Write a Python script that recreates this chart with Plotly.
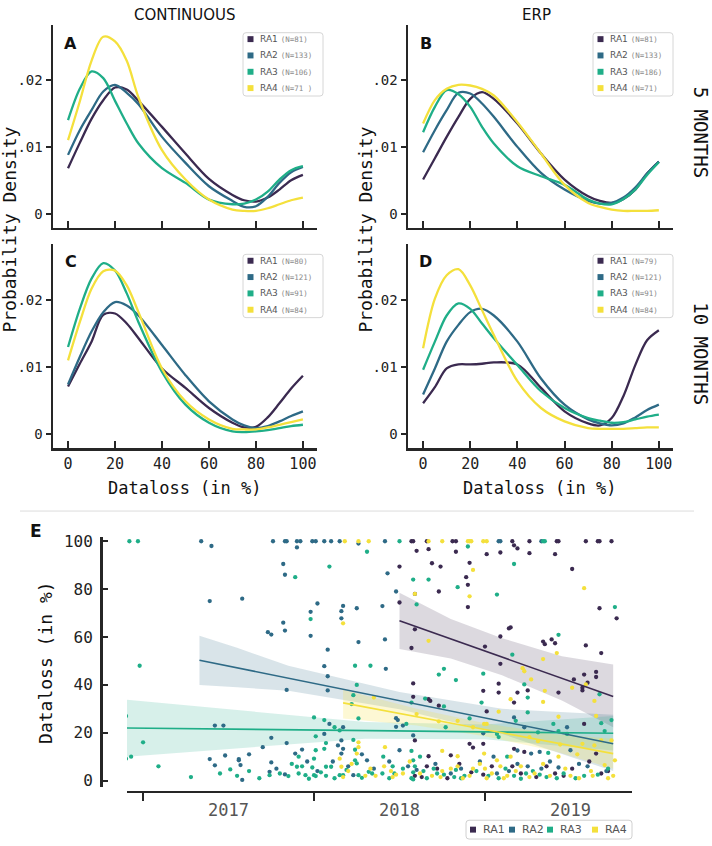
import plotly.graph_objects as go

W, H = 712, 846

# ---------------- data ----------------
ra_names = ["RA1", "RA2", "RA3", "RA4"]
ra_colors = ["#3b2a50", "#2e6a86", "#1fae88", "#f4e03c"]
band_fill = ["rgba(59,42,80,0.18)", "rgba(46,106,134,0.18)",
             "rgba(31,174,136,0.18)", "rgba(244,224,60,0.22)"]

dens_x = [0, 5, 10, 15, 20, 25, 30, 40, 50, 60, 70, 75, 80, 85, 90, 95, 100]

# A: continuous, 5 months
cont5_ra1 = [0.0068, 0.0106, 0.0142, 0.0170, 0.0189, 0.0186, 0.0169, 0.0130, 0.0090, 0.0052, 0.0028, 0.0020, 0.0018, 0.0024, 0.0036, 0.0050, 0.0058]
cont5_ra2 = [0.0088, 0.0125, 0.0155, 0.0183, 0.0193, 0.0181, 0.0164, 0.0115, 0.0076, 0.0041, 0.0019, 0.0010, 0.0011, 0.0025, 0.0046, 0.0062, 0.0070]
cont5_ra3 = [0.0140, 0.0187, 0.0213, 0.0203, 0.0169, 0.0135, 0.0105, 0.0068, 0.0046, 0.0021, 0.0014, 0.0015, 0.0021, 0.0033, 0.0051, 0.0065, 0.0071]
cont5_ra4 = [0.0110, 0.0168, 0.0229, 0.0265, 0.0258, 0.0229, 0.0174, 0.0095, 0.0051, 0.0021, 0.0006, 0.0004, 0.0004, 0.0008, 0.0014, 0.0020, 0.0024]
# B: ERP, 5 months
erp5_ra1 = [0.0051, 0.0083, 0.0115, 0.0145, 0.0172, 0.0182, 0.0172, 0.0135, 0.0090, 0.0051, 0.0026, 0.0019, 0.0016, 0.0022, 0.0036, 0.0060, 0.0078]
erp5_ra2 = [0.0092, 0.0125, 0.0155, 0.0181, 0.0180, 0.0165, 0.0145, 0.0100, 0.0061, 0.0036, 0.0019, 0.0015, 0.0016, 0.0024, 0.0039, 0.0060, 0.0078]
erp5_ra3 = [0.0122, 0.0160, 0.0185, 0.0179, 0.0160, 0.0130, 0.0105, 0.0071, 0.0056, 0.0043, 0.0021, 0.0015, 0.0014, 0.0022, 0.0036, 0.0058, 0.0077]
erp5_ra4 = [0.0135, 0.0170, 0.0187, 0.0193, 0.0192, 0.0187, 0.0177, 0.0137, 0.0090, 0.0043, 0.0016, 0.0010, 0.0006, 0.0004, 0.0004, 0.0004, 0.0005]
# C: continuous, 10 months
cont10_ra1 = [0.0071, 0.0105, 0.0138, 0.0178, 0.0180, 0.0165, 0.0143, 0.0098, 0.0069, 0.0039, 0.0017, 0.0010, 0.0011, 0.0025, 0.0046, 0.0068, 0.0087]
cont10_ra2 = [0.0074, 0.0115, 0.0153, 0.0182, 0.0197, 0.0192, 0.0177, 0.0133, 0.0088, 0.0049, 0.0022, 0.0013, 0.0009, 0.0012, 0.0019, 0.0027, 0.0034]
cont10_ra3 = [0.0130, 0.0187, 0.0232, 0.0255, 0.0244, 0.0210, 0.0167, 0.0093, 0.0044, 0.0017, 0.0004, 0.0003, 0.0004, 0.0006, 0.0009, 0.0012, 0.0014]
cont10_ra4 = [0.0110, 0.0167, 0.0217, 0.0243, 0.0244, 0.0222, 0.0182, 0.0098, 0.0049, 0.0022, 0.0008, 0.0007, 0.0007, 0.0010, 0.0014, 0.0018, 0.0022]
# D: ERP, 10 months
erp10_ra1 = [0.0046, 0.0070, 0.0098, 0.0104, 0.0104, 0.0105, 0.0107, 0.0104, 0.0069, 0.0034, 0.0016, 0.0013, 0.0024, 0.0057, 0.0103, 0.0140, 0.0155]
erp10_ra2 = [0.0059, 0.0098, 0.0138, 0.0163, 0.0182, 0.0187, 0.0177, 0.0138, 0.0083, 0.0044, 0.0022, 0.0016, 0.0013, 0.0016, 0.0025, 0.0036, 0.0044]
erp10_ra3 = [0.0096, 0.0138, 0.0177, 0.0195, 0.0187, 0.0165, 0.0143, 0.0103, 0.0064, 0.0039, 0.0024, 0.0020, 0.0017, 0.0018, 0.0022, 0.0026, 0.0029]
erp10_ra4 = [0.0128, 0.0202, 0.0237, 0.0246, 0.0222, 0.0185, 0.0148, 0.0079, 0.0039, 0.0019, 0.0009, 0.0008, 0.0008, 0.0008, 0.0009, 0.0010, 0.0010]

n_cont5 = ["(N=81)", "(N=133)", "(N=106)", "(N=71 )"]
n_erp5 = ["(N=81)", "(N=133)", "(N=186)", "(N=71)"]
n_cont10 = ["(N=80)", "(N=121)", "(N=91)", "(N=84)"]
n_erp10 = ["(N=79)", "(N=121)", "(N=91)", "(N=84)"]

dens_ticks = [0, 20, 40, 60, 80, 100]
dens_yticks = [0, 0.01, 0.02]
dens_yticktext = ["0", ".01", ".02"]

# E: dataloss over time (decimal year, dataloss %)
ra1_points = [
    (2018.57, 100), (2018.58, 100), (2018.66, 100), (2018.81, 100), (2018.83, 100), (2019.16, 100),
    (2019.26, 100), (2019.42, 100), (2019.43, 100), (2019.59, 100), (2019.66, 100), (2019.67, 100), (2019.74, 100),
    (2018.60, 96), (2018.67, 96.7), (2018.83, 95.6), (2019.01, 94.6), (2019.09, 95.3), (2018.69, 90.8),
    (2018.74, 89.4), (2018.50, 89.4), (2018.91, 91), (2018.89, 85), (2018.90, 81.8), (2018.73, 79),
    (2018.59, 78), (2018.50, 74.4), (2018.90, 72.5), (2018.59, 63.2), (2018.57, 55.4), (2019.00, 56),
    (2019.09, 60.2), (2019.09, 48.8), (2019.14, 63.6), (2018.58, 40.6), (2018.99, 37.5), (2019.08, 40.5),
    (2019.08, 36.8), (2018.58, 35), (2018.67, 34), (2018.68, 33.3), (2018.73, 31.3), (2019.01, 28.9),
    (2019.17, 98.3), (2019.19, 97), (2019.26, 95), (2019.41, 94.6), (2019.51, 88.4), (2019.67, 72),
    (2019.77, 67.8), (2019.15, 64), (2019.39, 59), (2019.41, 57.4), (2019.34, 58.1), (2019.35, 57),
    (2019.59, 56.5), (2019.68, 53.3), (2019.65, 45.4), (2019.65, 43.3), (2019.58, 44.3), (2019.60, 40.9),
    (2019.52, 42.3), (2019.57, 38.8), (2019.57, 37.7), (2019.43, 36.8), (2019.25, 37.7), (2019.19, 36.8),
    (2019.17, 32.6), (2019.58, 23.7), (2019.17, 13.3), (2019.23, 12), (2019.65, 11.3),
    (2018.59, 16.8), (2018.67, 10.2), (2018.80, 10.6), (2018.91, 15.4), (2018.93, 13.8), (2018.99, 15.4),
    (2018.59, 2), (2018.63, 1.5), (2018.66, 6), (2018.92, 3.5), (2018.99, 2.5), (2019.16, 6),
    (2019.41, 3), (2019.51, 5), (2019.68, 3), (2018.78, 1), (2019.30, 1.5),
    (2018.72, 5), (2018.85, 7), (2019.04, 6), (2019.21, 3), (2019.36, 6), (2019.46, 2), (2019.61, 8), (2019.72, 4),
]
ra2_points = [
    (2017.34, 100), (2017.40, 98), (2017.39, 75), (2017.42, 23), (2017.39, 9), (2017.48, 10.5),
    (2017.42, 6.4), (2017.56, 9), (2017.47, 23), (2017.58, 0.3),
    (2017.76, 100), (2017.83, 100), (2017.84, 100), (2017.90, 100), (2017.92, 100), (2017.99, 100),
    (2018.01, 100), (2018.06, 100), (2018.10, 100), (2018.15, 100), (2017.90, 97.4), (2018.26, 99),
    (2017.82, 90.5), (2017.83, 86), (2017.58, 76), (2018.02, 74), (2017.98, 70.5), (2018.17, 73),
    (2018.16, 70.8), (2018.16, 67.8), (2018.25, 72), (2017.82, 66), (2017.83, 62.7), (2017.73, 62),
    (2017.75, 61), (2017.98, 60.5), (2018.26, 57.9), (2018.08, 54.7), (2018.06, 47.8), (2018.08, 43.6),
    (2017.84, 37.9), (2018.08, 37.7), (2018.09, 23.7), (2018.17, 22.3), (2017.75, 17.9), (2017.84, 15.7),
    (2018.06, 19.5), (2018.16, 16.8), (2017.56, 8.5), (2017.57, 6.5), (2017.75, 7.6), (2017.74, 3.7),
    (2017.83, 2.6), (2017.89, 11.3), (2018.14, 14.7), (2018.17, 13.3), (2018.16, 11.3), (2018.23, 2.3),
    (2018.31, 8.5), (2018.415, 100), (2018.43, 86.6), (2018.40, 72.9), (2018.415, 59), (2018.42, 46.7),
    (2018.48, 26.1), (2018.49, 25.3), (2018.48, 22.5), (2018.48, 79),
    (2019.08, 100), (2019.09, 100), (2019.33, 100), (2018.52, 23), (2018.99, 19.8), (2018.58, 18.9),
    (2018.50, 12.7), (2019.05, 10), (2019.17, 26.4), (2019.23, 22.3), (2019.48, 22.3), (2019.19, 12.6),
    (2019.27, 11.3), (2019.32, 12), (2019.50, 12.7),
    (2018.35, 5), (2019.07, 3), (2019.19, 7), (2019.25, 6), (2019.33, 5), (2019.43, 5.5),
    (2018.02, 4), (2017.96, 8), (2018.20, 6), (2018.60, 4.5), (2018.80, 3), (2019.60, 6),
    (2017.62, 11), (2017.70, 14), (2017.78, 5), (2017.93, 13), (2018.11, 8), (2018.28, 11), (2018.44, 8),
    (2018.55, 6), (2018.71, 7), (2018.86, 5), (2018.97, 8), (2019.14, 4), (2019.38, 8), (2019.55, 7), (2019.71, 4),
]
ra3_points = [
    (2016.92, 100), (2016.97, 100), (2016.98, 48), (2016.90, 27), (2017.00, 16), (2016.90, 9.2),
    (2016.93, 10), (2017.09, 6), (2017.51, 4.7), (2017.28, 1.5), (2017.45, 3),
    (2017.89, 85), (2018.09, 89.4), (2017.98, 67.5), (2018.24, 48), (2018.33, 48), (2018.25, 40),
    (2018.23, 35.7), (2018.22, 32), (2018.00, 26.4), (2018.06, 25.3), (2018.12, 22.3), (2018.15, 21),
    (2018.26, 26), (2018.01, 18.5), (2018.07, 15.7), (2018.23, 17), (2018.31, 95.6), (2017.85, 1.9),
    (2017.91, 10), (2017.90, 5.8), (2017.91, 3), (2017.93, 6), (2017.95, 2.3), (2018.01, 12.7),
    (2018.00, 9.2), (2017.99, 5.5), (2018.00, 2.3), (2018.01, 1.9), (2018.06, 13.3), (2018.07, 5.8),
    (2018.10, 5.8), (2018.07, 2), (2018.15, 2.3), (2018.17, 2.3), (2018.24, 12.9), (2018.24, 8.5),
    (2018.25, 7.2), (2018.26, 2.3), (2018.32, 3.7), (2018.34, 3), (2017.74, 2.3),
    (2018.50, 100), (2018.90, 97.8), (2018.58, 84), (2018.67, 84), (2018.84, 80.8), (2019.07, 77.7),
    (2018.60, 73.6), (2018.73, 44.3), (2018.76, 46.7), (2018.83, 42), (2018.99, 44.7), (2018.65, 34.3),
    (2018.57, 32.6), (2018.76, 31), (2018.98, 32.6), (2018.54, 23.7), (2018.77, 22.3), (2018.91, 26),
    (2019.07, 19.5), (2019.08, 18.2), (2018.405, 10), (2018.57, 12.4), (2018.58, 8.5), (2018.62, 10),
    (2019.13, 10), (2019.34, 100), (2019.35, 100),
    (2019.17, 90.5), (2019.76, 72.5), (2019.43, 60.9), (2019.16, 52.6), (2019.23, 40.2), (2019.67, 36.1),
    (2019.25, 34.7), (2019.25, 28.5), (2019.18, 25), (2019.40, 23.7), (2019.68, 24), (2019.74, 25.3),
    (2019.31, 20.2), (2019.43, 20.7), (2019.48, 19.5), (2019.70, 20.7), (2019.37, 11.6),
    (2018.40, 3), (2018.47, 3), (2018.46, 6), (2018.57, 1), (2018.58, 3.5), (2018.59, 6), (2018.58, 0.5),
    (2018.64, 4), (2018.76, 2.5), (2018.82, 1.5), (2018.83, 4.5), (2019.08, 1), (2019.17, 2),
    (2019.24, 3), (2019.32, 2.5), (2019.42, 1), (2019.58, 2), (2018.70, 5), (2018.88, 2),
    (2017.55, 2), (2017.62, 4), (2017.68, 1), (2017.80, 3), (2017.87, 7), (2017.97, 0.8), (2018.04, 3.5),
    (2018.12, 1), (2018.19, 4.5), (2018.28, 1.2), (2018.44, 1), (2018.52, 5), (2018.66, 1), (2018.72, 3),
    (2018.86, 1), (2018.95, 4), (2019.02, 2), (2019.12, 5), (2019.21, 0.8), (2019.28, 4), (2019.36, 1.5),
    (2019.46, 3), (2019.53, 1), (2019.66, 2.5), (2019.72, 5),
]
ra4_points = [
    (2018.18, 100), (2018.26, 100), (2018.32, 100), (2018.67, 100), (2018.75, 100), (2018.90, 100),
    (2018.91, 100), (2018.92, 100), (2018.99, 100), (2019.01, 100),
    (2018.17, 65.7), (2018.26, 16), (2018.26, 14), (2018.15, 9.2), (2018.16, 5.8), (2018.25, 11.3),
    (2018.93, 88), (2018.59, 78), (2018.91, 77), (2018.67, 58.4), (2018.35, 34.7), (2018.60, 27.8),
    (2018.73, 24.8), (2018.84, 25), (2018.93, 22.3), (2018.995, 23.7), (2019.01, 23.7), (2019.08, 28.8),
    (2018.415, 14), (2018.75, 12.4), (2018.84, 10.2), (2018.995, 11.3), (2019.07, 8.5),
    (2019.58, 80.4), (2019.42, 53.3), (2019.34, 50.8), (2019.22, 47), (2019.23, 45.7), (2019.27, 42.3),
    (2019.59, 40.2), (2019.51, 38.8), (2019.35, 37.5), (2019.64, 33.3), (2019.34, 32.9), (2019.15, 34),
    (2019.43, 26.7), (2019.65, 27), (2019.26, 18.2), (2019.31, 16.5), (2019.44, 15.1), (2019.57, 15.4),
    (2019.64, 14.7), (2019.68, 16.8), (2019.74, 16.8), (2019.54, 11), (2019.15, 10), (2019.43, 10),
    (2019.76, 8.5),
    (2018.17, 1.5), (2018.20, 4), (2018.30, 2), (2018.36, 2), (2018.41, 6), (2018.45, 4), (2018.46, 1.5),
    (2018.48, 2.5), (2018.74, 1.5), (2018.75, 4), (2018.84, 6), (2018.91, 2), (2018.93, 5), (2019.00, 5),
    (2019.01, 1), (2019.09, 6), (2019.13, 2), (2019.18, 4), (2019.26, 1.5), (2019.34, 7), (2019.50, 2),
    (2019.75, 2), (2019.62, 4), (2019.70, 6.5), (2018.62, 3),
    (2018.22, 7), (2018.33, 5), (2018.52, 3), (2018.56, 8), (2018.69, 2), (2018.80, 5), (2018.87, 1),
    (2018.97, 7), (2019.04, 3), (2019.11, 1), (2019.21, 6), (2019.29, 3), (2019.38, 2), (2019.47, 5),
    (2019.55, 1), (2019.63, 2), (2019.72, 1),
]

# regression lines and confidence bands
ra1_band_x = [2018.50, 2018.80, 2019.10, 2019.45, 2019.75]
ra1_fit = [66.8, 59.2, 51.6, 42.7, 35.1]
ra1_hi = [78.5, 67.5, 59.5, 52.0, 48.5]
ra1_lo = [55.0, 51.0, 44.0, 33.5, 22.3]

ra2_band_x = [2017.33, 2017.55, 2017.85, 2018.50, 2019.10, 2019.75]
ra2_fit = [50.3, 47.1, 42.8, 33.4, 24.8, 15.4]
ra2_hi = [60.5, 55.5, 48.0, 37.0, 30.0, 27.5]
ra2_lo = [40.0, 39.0, 37.5, 29.8, 19.5, 4.0]

ra3_band_x = [2016.90, 2017.54, 2018.30, 2019.00, 2019.75]
ra3_fit = [22.0, 21.5, 20.9, 20.4, 19.8]
ra3_hi = [33.8, 29.5, 24.5, 23.5, 27.0]
ra3_lo = [10.0, 13.5, 17.5, 17.3, 12.6]

ra4_band_x = [2018.17, 2018.60, 2019.00, 2019.40, 2019.75]
ra4_fit = [32.5, 26.7, 21.4, 16.0, 11.3]
ra4_hi = [38.0, 30.0, 24.0, 19.5, 17.5]
ra4_lo = [26.0, 23.0, 18.5, 12.5, 5.0]

year_labels = ["2017", "2018", "2019"]
year_label_pos = [2017.5, 2018.5, 2019.5]
year_bounds = [2017, 2018, 2019]
loss_ticks = [0, 20, 40, 60, 80, 100]

# ---------------- helpers ----------------
def fx(p):
    return p / W


def fy(p):
    return 1 - p / H


MONO = "DejaVu Sans Mono"
SANS = "DejaVu Sans"
AX = "#262626"

fig = go.Figure()

# (xaxis, yaxis, series, N labels, legend offset, letter offset, letter)
panels = [
    ("x", "y", [cont5_ra1, cont5_ra2, cont5_ra3, cont5_ra4], n_cont5, (0, 0), (0, 0), "A"),
    ("x2", "y2", [erp5_ra1, erp5_ra2, erp5_ra3, erp5_ra4], n_erp5, (350, 0), (355, 0), "B"),
    ("x3", "y3", [cont10_ra1, cont10_ra2, cont10_ra3, cont10_ra4], n_cont10, (0, 224), (0, 220), "C"),
    ("x4", "y4", [erp10_ra1, erp10_ra2, erp10_ra3, erp10_ra4], n_erp10, (350, 224), (355, 220), "D"),
]

for xa, ya, series, _, _, _, _ in panels:
    for i, vals in enumerate(series):
        fig.add_trace(go.Scatter(
            x=dens_x, y=vals, mode="lines", xaxis=xa, yaxis=ya,
            line=dict(color=ra_colors[i], width=2.3, shape="spline", smoothing=0.9),
            hoverinfo="skip", showlegend=False))

# panel E
bands = [(ra1_band_x, ra1_fit, ra1_hi, ra1_lo), (ra2_band_x, ra2_fit, ra2_hi, ra2_lo),
         (ra3_band_x, ra3_fit, ra3_hi, ra3_lo), (ra4_band_x, ra4_fit, ra4_hi, ra4_lo)]
pts = [ra1_points, ra2_points, ra3_points, ra4_points]

for i, (bx, fit, hi, lo) in enumerate(bands):
    fig.add_trace(go.Scatter(
        x=bx + bx[::-1], y=hi + lo[::-1], fill="toself", fillcolor=band_fill[i],
        mode="lines", line=dict(width=0), xaxis="x5", yaxis="y5",
        hoverinfo="skip", showlegend=False))

for i, p in enumerate(pts):
    fig.add_trace(go.Scatter(
        x=[a for a, b in p], y=[b for a, b in p], mode="markers", xaxis="x5", yaxis="y5",
        marker=dict(color=ra_colors[i], size=4.3, line=dict(width=0)),
        hoverinfo="skip", showlegend=False))

for i, (bx, fit, hi, lo) in enumerate(bands):
    fig.add_trace(go.Scatter(
        x=bx, y=fit, mode="lines", xaxis="x5", yaxis="y5",
        line=dict(color=ra_colors[i], width=1.6), hoverinfo="skip", showlegend=False))

# ---------------- axes ----------------
layout = dict(width=W, height=H, margin=dict(l=0, r=0, t=0, b=0),
              paper_bgcolor="white", plot_bgcolor="white", showlegend=False)

dom = {
    "A": ((53, 317), (20, 225)),
    "B": ((408, 673), (20, 225)),
    "C": ((53, 317), (242, 448)),
    "D": ((408, 673), (242, 448)),
}
names = ["", "2", "3", "4"]
for k, key in enumerate(["A", "B", "C", "D"]):
    (x0, x1), (y0, y1) = dom[key]
    layout["xaxis" + names[k]] = dict(
        domain=[fx(x0), fx(x1)], range=[-6.4, 106], anchor="y" + names[k],
        tickvals=dens_ticks, showticklabels=key in ("C", "D"),
        ticks="inside", ticklen=7, tickwidth=2, tickcolor=AX,
        showline=True, linewidth=2.5, linecolor=AX, showgrid=False, zeroline=False,
        tickfont=dict(family=MONO, size=15, color="#222"))
    layout["yaxis" + names[k]] = dict(
        domain=[fy(y1), fy(y0)], range=[-0.0021, 0.0283], anchor="x" + names[k],
        tickvals=dens_yticks, ticktext=dens_yticktext,
        ticks="outside", ticklen=5, tickwidth=2, tickcolor=AX,
        showline=True, linewidth=2.5, linecolor=AX, showgrid=False, zeroline=False,
        tickfont=dict(family=MONO, size=14, color="#222"))

layout["xaxis5"] = dict(
    domain=[fx(127), fx(632)], range=[2016.906, 2019.86], anchor="free", position=fy(795),
    tickvals=year_label_pos, ticktext=year_labels, ticks="outside", ticklen=3,
    tickcolor="rgba(0,0,0,0)",
    minor=dict(tickvals=year_bounds, ticks="outside", ticklen=8, tickwidth=1.5, tickcolor=AX),
    showline=True, linewidth=2.5, linecolor=AX, showgrid=False, zeroline=False,
    tickfont=dict(family=MONO, size=17, color="#555"))
layout["yaxis5"] = dict(
    domain=[fy(790), fy(538)], range=[-2.48, 101.65], anchor="free", position=fx(101),
    tickvals=loss_ticks, ticks="inside", ticklen=5, tickwidth=2, tickcolor=AX,
    ticklabelstandoff=4,
    showline=True, linewidth=2.5, linecolor=AX, showgrid=False, zeroline=False,
    tickfont=dict(family="Liberation Sans Narrow, DejaVu Sans Mono", size=16, color="#222"))

shapes = []
annotations = []


def ann(text, x, y, size, family=MONO, color="#111", angle=0, xanchor="center", bold=False):
    annotations.append(dict(
        text=("<b>%s</b>" % text) if bold else text, x=fx(x), y=fy(y), xref="paper", yref="paper",
        showarrow=False, xanchor=xanchor, yanchor="middle", textangle=angle,
        font=dict(family=family, size=size, color=color)))


def rrect(x0, y0, x1, y1, r, line_color, fill):
    X = lambda v: fx(v)
    Y = lambda v: fy(v)
    path = ("M {a},{b} L {c},{b} Q {d},{b} {d},{e} L {d},{f} Q {d},{g} {c},{g} "
            "L {a},{g} Q {h},{g} {h},{f} L {h},{e} Q {h},{b} {a},{b} Z").format(
        a=X(x0 + r), b=Y(y0), c=X(x1 - r), d=X(x1), e=Y(y0 + r), f=Y(y1 - r), g=Y(y1), h=X(x0))
    shapes.append(dict(type="path", path=path, xref="paper", yref="paper",
                       line=dict(color=line_color, width=1), fillcolor=fill, layer="above"))


# panel legends and letters
for xa, ya, series, nlab, (ox, oy), (lx_off, ly_off), letter in panels:
    rrect(243 + ox, 28 + oy, 323 + ox, 92 + oy, 3, "#d6d6d6", "rgba(255,255,255,0.9)")
    for i in range(4):
        cy = 34.5 + 16.5 * i + oy
        shapes.append(dict(type="rect", xref="paper", yref="paper",
                           x0=fx(247.5 + ox), x1=fx(253.5 + ox), y0=fy(cy + 3), y1=fy(cy - 3),
                           fillcolor=ra_colors[i], line=dict(width=0), layer="above"))
        txt = ("%s <span style=\"font-family:DejaVu Sans Mono;font-size:7.5px;fill:#8a8a8a\">%s</span>"
               % (ra_names[i], nlab[i]))
        ann(txt, 258 + ox, cy, 9, family=SANS, color="#555", xanchor="left")
    ann(letter, 70.5 + lx_off, 39 + ly_off, 16, family=SANS, color="#111", bold=True)

# titles
ann("CONTINUOUS", 185, 10, 15, family=SANS)
ann("ERP", 536, 10, 15, family=SANS)
ann("Probability Density", 10, 227, 18, angle=-90)
ann("Probability Density", 366, 227, 18, angle=-90)
ann("Dataloss (in %)", 185, 488, 17)
ann("Dataloss (in %)", 540, 488, 17)
ann("5 MONTHS", 701, 129, 19, angle=90)
ann("10 MONTHS", 701, 352, 19, angle=90)

# separator
shapes.append(dict(type="line", xref="paper", yref="paper", x0=fx(20), x1=fx(694), y0=fy(511.5), y1=fy(511.5),
                   line=dict(color="#dcdcdc", width=1)))

# panel E texts
ann("E", 36, 532, 17, family=SANS, bold=True)
ann("Dataloss (in %)", 46, 665, 18, angle=-90)

# legend E
rrect(466, 824, 632, 843, 3, "#d0d0d0", "white")
e_sq_x = [473, 512, 550, 595]
for i in range(4):
    shapes.append(dict(type="rect", xref="paper", yref="paper",
                       x0=fx(e_sq_x[i] - 3), x1=fx(e_sq_x[i] + 3), y0=fy(836.5), y1=fy(830.5),
                       fillcolor=ra_colors[i], line=dict(width=0), layer="above"))
    ann(ra_names[i], e_sq_x[i] + 8, 833.5, 11, family="Liberation Sans Narrow, DejaVu Sans", color="#555",
        xanchor="left")

layout["shapes"] = shapes
layout["annotations"] = annotations
fig.update_layout(**layout)

fig.write_html("out.html", config={"displayModeBar": False, "staticPlot": True},
               post_script="document.body.style.margin='0';document.body.style.overflow='hidden';")
